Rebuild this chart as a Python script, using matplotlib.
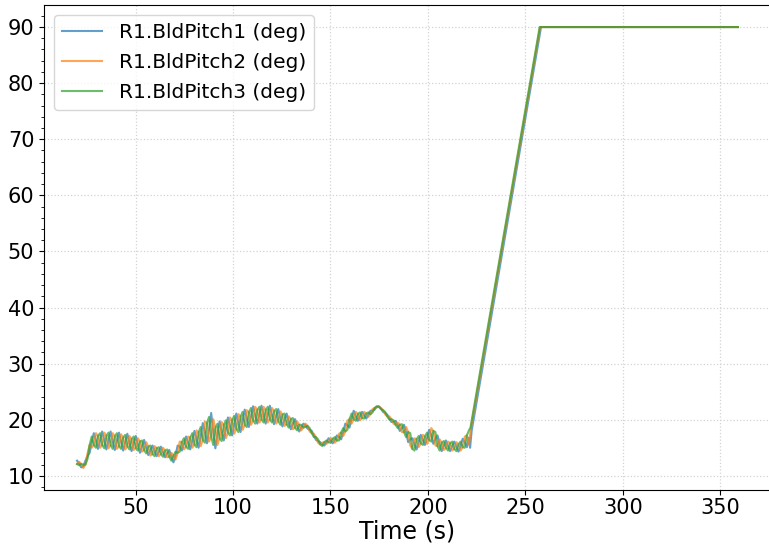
import numpy as np
import matplotlib
matplotlib.use("Agg")
import matplotlib.pyplot as plt
from matplotlib.ticker import AutoMinorLocator

# -------------------------------------------------------
# Blade pitch (deg)
# oscillating part is sampled every DT seconds from T0
# -------------------------------------------------------
T0 = 20.0
DT = 1.075

pitch1 = [
    12.7, 12.2, 11.5, 11.7, 12.7, 13.5, 14.1, 16.0, 17.6, 16.3, 14.8, 16.3,
    17.9, 16.3, 14.7, 16.3, 17.9, 16.2, 14.6, 16.2, 17.7, 16.1, 14.5, 16.0,
    17.5, 15.9, 14.4, 15.8, 17.1, 15.6, 14.1, 15.3, 16.4, 15.0, 13.7, 14.5,
    15.4, 14.4, 13.5, 14.3, 15.2, 14.2, 13.3, 14.0, 14.6, 13.4, 12.4, 13.6,
    15.4, 15.2, 14.5, 15.7, 17.0, 15.9, 14.7, 16.3, 18.0, 16.6, 15.0, 17.0,
    19.4, 17.8, 15.8, 18.3, 21.2, 17.8, 14.9, 17.4, 19.7, 17.9, 16.3, 18.3,
    20.4, 18.8, 17.2, 19.1, 21.1, 19.4, 17.8, 19.8, 21.8, 20.2, 18.7, 20.6,
    22.4, 20.8, 19.3, 20.9, 22.5, 20.9, 19.3, 20.9, 22.5, 20.8, 19.2, 20.6,
    21.9, 20.3, 18.8, 20.0, 21.1, 19.6, 18.3, 19.3, 20.1, 18.9, 17.9, 18.6,
    19.3, 19.0, 18.4, 18.2, 18.0, 17.2, 16.4, 16.2, 16.0, 15.6, 15.4, 16.0,
    16.7, 16.3, 15.8, 16.4, 17.2, 16.9, 16.5, 17.8, 19.3, 19.0, 18.6, 20.2,
    21.6, 20.6, 19.8, 20.6, 21.4, 20.8, 20.2, 20.9, 21.6, 21.6, 21.8, 22.3,
    22.4, 22.0, 21.4, 21.2, 20.9, 20.3, 19.6, 19.6, 19.8, 19.0, 18.0, 18.5,
    19.1, 17.8, 16.0, 16.5, 16.7, 15.6, 14.7, 16.1, 17.3, 16.4, 15.5, 16.7,
    18.2, 17.3, 15.7, 16.6, 17.2, 15.5, 14.4, 15.4, 16.3, 15.3, 14.4, 15.3,
    16.1, 15.2, 14.3, 15.3, 16.6, 16.0, 15.1, 16.8,
]
pitch2 = [
    12.1, 12.5, 12.1, 11.4, 12.0, 14.0, 15.5, 15.0, 15.5, 17.6, 17.1, 15.0,
    15.5, 17.7, 17.1, 14.9, 15.5, 17.6, 17.0, 14.8, 15.3, 17.4, 16.8, 14.7,
    15.3, 17.1, 16.5, 14.6, 15.0, 16.7, 16.1, 14.3, 14.6, 16.0, 15.2, 13.6,
    13.9, 15.3, 14.9, 13.5, 13.9, 15.0, 14.5, 13.3, 13.4, 14.1, 13.6, 12.9,
    14.1, 16.1, 16.0, 14.7, 15.2, 17.0, 16.8, 15.0, 15.6, 18.1, 17.7, 15.3,
    16.4, 19.7, 19.4, 16.1, 17.0, 20.1, 18.5, 15.5, 16.7, 19.6, 19.0, 16.7,
    17.7, 20.4, 19.9, 17.5, 18.4, 21.0, 20.5, 18.2, 19.1, 21.7, 21.3, 19.1,
    19.9, 22.3, 21.7, 19.5, 20.1, 22.3, 21.7, 19.5, 20.1, 22.1, 21.5, 19.3,
    19.8, 21.5, 20.9, 18.9, 19.2, 20.6, 20.1, 18.3, 18.6, 19.7, 19.1, 18.1,
    18.6, 19.3, 18.9, 17.9, 17.6, 17.5, 16.9, 15.9, 15.6, 15.9, 16.0, 15.7,
    16.0, 16.7, 16.6, 15.9, 16.3, 17.5, 17.7, 17.1, 17.9, 19.8, 20.1, 19.3,
    20.1, 21.4, 21.0, 19.9, 20.3, 21.4, 21.1, 20.5, 21.0, 21.9, 22.1, 22.2,
    22.3, 22.1, 21.7, 21.0, 20.6, 20.6, 20.1, 19.3, 19.1, 19.5, 19.1, 17.8,
    17.8, 18.7, 17.8, 15.4, 14.8, 16.7, 16.5, 15.1, 15.8, 17.3, 17.0, 15.7,
    16.4, 18.5, 18.0, 15.4, 15.3, 16.5, 15.9, 14.6, 15.0, 16.1, 15.8, 14.5,
    14.8, 16.0, 15.6, 14.5, 15.1, 17.0, 17.2, 15.5,
]
pitch3 = [
    12.1, 11.9, 12.1, 12.0, 12.0, 13.0, 15.5, 17.0, 15.5, 15.0, 17.1, 17.6,
    15.5, 14.9, 17.1, 17.7, 15.5, 14.8, 17.0, 17.6, 15.3, 14.8, 16.8, 17.3,
    15.3, 14.7, 16.5, 17.0, 15.0, 14.5, 16.1, 16.3, 14.6, 14.0, 15.2, 15.4,
    13.9, 13.5, 14.9, 15.1, 13.9, 13.4, 14.5, 14.7, 13.4, 12.7, 13.6, 14.3,
    14.1, 14.3, 16.0, 16.7, 15.2, 14.8, 16.8, 17.6, 15.6, 15.1, 17.7, 18.7,
    16.4, 15.9, 19.4, 20.5, 17.0, 15.5, 18.5, 19.3, 16.7, 16.2, 19.0, 19.9,
    17.7, 17.2, 19.9, 20.7, 18.4, 17.8, 20.5, 21.4, 19.1, 18.7, 21.3, 22.1,
    19.9, 19.3, 21.7, 22.3, 20.1, 19.5, 21.7, 22.3, 20.1, 19.5, 21.5, 21.9,
    19.8, 19.1, 20.9, 21.1, 19.2, 18.6, 20.1, 20.3, 18.6, 18.1, 19.1, 19.1,
    18.6, 18.7, 18.9, 18.5, 17.6, 16.9, 16.9, 16.5, 15.6, 15.3, 16.0, 16.3,
    16.0, 15.9, 16.6, 16.9, 16.3, 16.3, 17.7, 18.5, 17.9, 18.2, 20.1, 21.1,
    20.1, 19.8, 21.0, 21.3, 20.3, 20.2, 21.1, 21.3, 21.0, 21.3, 22.1, 22.4,
    22.3, 21.9, 21.7, 21.4, 20.6, 20.0, 20.1, 19.9, 19.1, 18.5, 19.1, 19.2,
    17.8, 16.9, 17.8, 17.6, 14.8, 14.5, 16.5, 17.1, 15.8, 15.5, 17.0, 17.7,
    16.4, 16.1, 18.0, 17.8, 15.3, 14.5, 15.9, 16.2, 15.0, 14.5, 15.8, 16.1,
    14.8, 14.4, 15.6, 16.1, 15.1, 15.0, 17.2, 18.1,
]

# pitch-to-feather ramp and parked part, per blade
tail_time1 = [221.6, 222.4, 258.0, 359.0]
tail_pitch1 = [15.0, 18.0, 90.0, 90.0]
tail_time2 = [222.0, 257.5, 359.0]
tail_pitch2 = [18.5, 90.0, 90.0]
tail_time3 = [221.8, 257.3, 359.0]
tail_pitch3 = [18.6, 90.0, 90.0]

LABELS = ["R1.BldPitch1 (deg)", "R1.BldPitch2 (deg)", "R1.BldPitch3 (deg)"]
COLORS = ["#1f77b4", "#ff7f0e", "#2ca02c"]

series = [
    (pitch1, tail_time1, tail_pitch1),
    (pitch2, tail_time2, tail_pitch2),
    (pitch3, tail_time3, tail_pitch3),
]

fig = plt.figure(figsize=(7.69, 5.46), dpi=100)
ax = fig.add_axes([44 / 769, 56 / 546, 727 / 769, 485 / 546])

for (vals, tt, tv), lab, col in zip(series, LABELS, COLORS):
    t = T0 + DT * np.arange(len(vals))
    time = np.concatenate([t, tt])
    pitch = np.concatenate([vals, tv])
    ax.plot(time, pitch, color=col, alpha=0.7, linewidth=1.5, label=lab)

ax.set_xlabel("Time (s)", fontsize=17, labelpad=1)
ax.set_xticks([50, 100, 150, 200, 250, 300, 350])
ax.set_yticks([10, 20, 30, 40, 50, 60, 70, 80, 90])
ax.yaxis.set_minor_locator(AutoMinorLocator(5))
ax.tick_params(axis="both", labelsize=15)
ax.tick_params(axis="x", pad=2)
ax.grid(True, which="major", linestyle=":", color="lightgray", linewidth=0.9)
ax.legend(loc="upper left", fontsize=14.5, labelspacing=0.55)

plt.savefig("out.png", dpi=100)
